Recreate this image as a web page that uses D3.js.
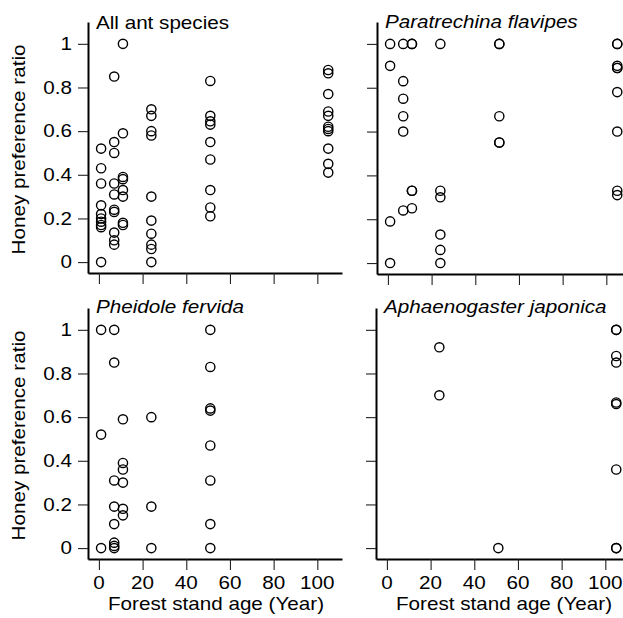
<!DOCTYPE html>
<html>
<head>
<meta charset="utf-8">
<script src="https://cdn.jsdelivr.net/npm/d3@7/dist/d3.min.js"></script>
<style>
  body { margin: 0; background: #fff; }
  text { font-family: "Liberation Sans", Arial, Helvetica, sans-serif; fill: #000; }
</style>
</head>
<body>
<div id="chart"></div>
<script>
// values: forest stand age (years) vs honey preference ratio
const allAge = [1,1,1,1,1,1,1,1,1,1, 7,7,7,7,7,7,7,7,7,7, 11,11,11,11,11,11,11,11,
  24,24,24,24,24,24,24,24,24,24, 51,51,51,51,51,51,51,51,51, 105,105,105,105,105,105,105,105,105,105,105];
const allRatio = [0.52,0.43,0.36,0.26,0.22,0.20,0.185,0.17,0.16,0,
  0.85,0.55,0.50,0.36,0.31,0.24,0.23,0.135,0.10,0.08,
  1.0,0.59,0.39,0.38,0.33,0.30,0.18,0.17,
  0.70,0.67,0.60,0.58,0.30,0.19,0.13,0.08,0.06,0,
  0.83,0.67,0.645,0.63,0.55,0.47,0.33,0.25,0.21,
  0.88,0.865,0.77,0.69,0.67,0.62,0.61,0.60,0.52,0.45,0.41];

const paraAge = [1,1,1,1, 7,7,7,7,7,7, 11,11,11,11,11, 24,24,24,24,24,24, 51,51,51,51,51,
  105,105,105,105,105,105,105,105,105];
const paraRatio = [1.0,0.90,0.19,0, 1.0,0.83,0.75,0.67,0.60,0.24, 1.0,1.0,0.33,0.33,0.25,
  1.0,0.33,0.30,0.13,0.06,0, 1.0,1.0,0.67,0.55,0.55,
  1.0,1.0,0.90,0.89,0.89,0.78,0.60,0.33,0.31];

const pheiAge = [1,1,1, 7,7,7,7,7,7,7,7, 11,11,11,11,11,11, 24,24,24, 51,51,51,51,51,51,51,51];
const pheiRatio = [1.0,0.52,0, 1.0,0.85,0.31,0.19,0.11,0.025,0.01,0, 0.59,0.39,0.36,0.30,0.18,0.15,
  0.60,0.19,0, 1.0,0.83,0.64,0.63,0.47,0.31,0.11,0];

const aphaAge = [24,24, 51, 105,105,105,105,105,105,105,105,105];
const aphaRatio = [0.92,0.70, 0, 1.0,1.0,0.88,0.85,0.667,0.66,0.36,0,0];

const titles = ["All ant species", "Paratrechina flavipes", "Pheidole fervida", "Aphaenogaster japonica"];
const yTicks = [0, 0.2, 0.4, 0.6, 0.8, 1];
const xTicks = [0, 20, 40, 60, 80, 100];
const yTitle = "Honey preference ratio";
const xTitle = "Forest stand age (Year)";

const W = 623, H = 618;
const stretch = 1.18; // glyphs in the figure are wider than Arial

const svg = d3.select('#chart').append('svg')
  .attr('width', W).attr('height', H);

// panel layout (left edge, top, bottom of plotting region)
const panels = [
  { age: allAge,  ratio: allRatio,  left: 88,  top: 22,  bottom: 273, italic: false, row: 0, col: 0, titleY: 29 },
  { age: paraAge, ratio: paraRatio, left: 377, top: 22,  bottom: 274, italic: true,  row: 0, col: 1, titleY: 28 },
  { age: pheiAge, ratio: pheiRatio, left: 88,  top: 308, bottom: 559, italic: true,  row: 1, col: 0, titleY: 313 },
  { age: aphaAge, ratio: aphaRatio, left: 376, top: 308, bottom: 559, italic: true,  row: 1, col: 1, titleY: 313 }
];
const pw = 254;

function label(g, str, x, y, anchor, rotate, italic) {
  return g.append('text')
    .attr('transform', `translate(${x},${y})` + (rotate ? ` rotate(${rotate})` : '') + ` scale(${stretch},1)`)
    .attr('text-anchor', anchor)
    .attr('font-size', '17.5px')
    .attr('font-style', italic ? 'italic' : 'normal')
    .text(str);
}

panels.forEach((p, i) => {
  const g = svg.append('g');

  const x = d3.scaleLinear().domain([-5, 111.3]).range([p.left, p.left + pw]);
  const y = d3.scaleLinear().domain([-0.05, 1.1]).range([p.bottom, p.top]);

  // axes: ticks only, labels drawn separately
  const yAxis = g.append('g')
    .attr('transform', `translate(${p.left},0)`)
    .call(d3.axisLeft(y).tickValues(yTicks).tickSize(10).tickSizeOuter(0).tickFormat(''));
  const xAxis = g.append('g')
    .attr('transform', `translate(0,${p.bottom})`)
    .call(d3.axisBottom(x).tickValues(xTicks).tickSize(11).tickSizeOuter(0).tickFormat(''));
  [yAxis, xAxis].forEach(a => {
    a.select('.domain').attr('stroke', '#000').attr('stroke-width', 2);
    a.selectAll('.tick line').attr('stroke', '#222').attr('stroke-width', 1.1);
  });

  if (p.col === 0) {
    yTicks.forEach(v => label(g, String(v), p.left - 16, y(v) + 6.2, 'end'));
    label(g, yTitle, 25, (p.top + p.bottom) / 2 + 2, 'middle', -90);
  }
  if (p.row === 1) {
    xTicks.forEach(v => label(g, String(v), x(v), 589, 'middle'));
    label(g, xTitle, p.left + pw / 2 + 1, 610, 'middle');
  }

  label(g, titles[i], p.left + 8, p.titleY, 'start', 0, p.italic);

  g.selectAll('circle')
    .data(p.age.map((a, k) => [a, p.ratio[k]]))
    .enter().append('circle')
    .attr('cx', d => x(d[0]))
    .attr('cy', d => y(d[1]))
    .attr('r', 4.6)
    .attr('fill', 'none')
    .attr('stroke', '#000')
    .attr('stroke-width', 1.4);
});
</script>
</body>
</html>
